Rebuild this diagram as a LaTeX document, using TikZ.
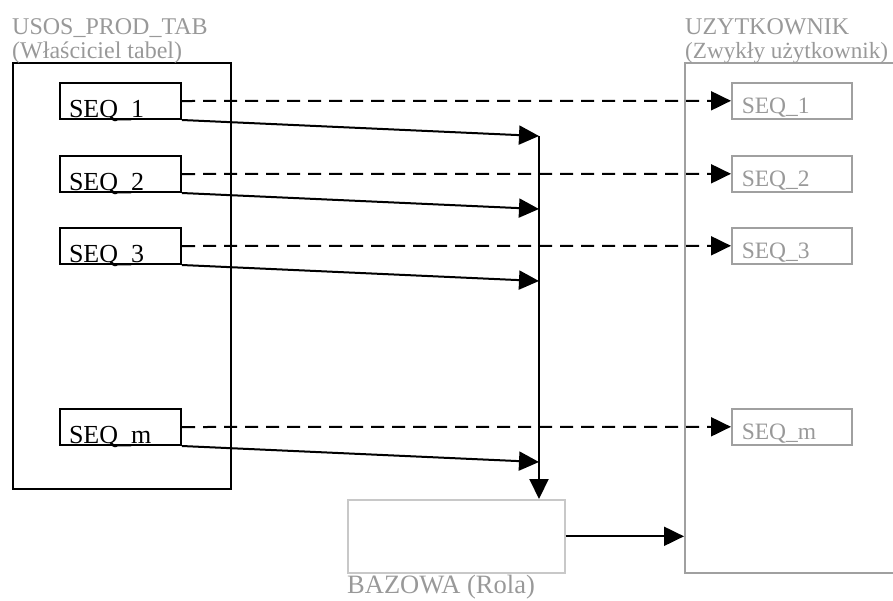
\documentclass[tikz,border=0pt]{standalone}
\usepackage{fontspec}
\setmainfont{Liberation Serif}
\usetikzlibrary{arrows.meta}

\definecolor{labelgray}{HTML}{999999}
\definecolor{linegray}{HTML}{A0A0A0}
\definecolor{palegray}{HTML}{C8C8C8}

\begin{document}
\begin{tikzpicture}[
  x=1pt,y=-1pt,
  font=\fontsize{24}{28}\selectfont,
  >={Triangle[length=20pt,width=19pt]},
  frame/.style={draw,line width=2pt,anchor=north west,inner sep=0pt},
  seq/.style={draw,line width=2pt,anchor=north west,text width=103pt,align=left,
    font=\fontsize{26}{30}\selectfont,
    inner xsep=9pt,inner ysep=0pt,text height=32pt,text depth=0pt,minimum height=36pt},
  useq/.style={seq,draw=linegray,line width=1.6pt,text=labelgray,inner xsep=10pt,
    text width=100pt,text height=26pt,font=\fontsize{23.5}{28}\selectfont},
  title/.style={anchor=base west,text=labelgray,inner sep=0pt},
  flow/.style={->,line width=2pt},
  grant/.style={flow,dash pattern=on 13pt off 8pt}
]
\useasboundingbox (0,0) rectangle (893,600);

\node[frame,minimum width=218pt,minimum height=426pt] (owner) at (12,62) {};
\node[title] (ownername) at (12,34) {USOS\_PROD\_TAB};
\node[title] (ownerrole) at (12,58) {(Właściciel tabel)};

\node[frame,draw=linegray,line width=1.6pt,minimum width=240pt,minimum height=510pt] (user) at (684,62) {};
\node[title] (username) at (685,34) {UZYTKOWNIK};
\node[title,font=\fontsize{23.2}{28}\selectfont] (userrole) at (685,58) {(Zwykły użytkownik)};

\node[frame,draw=palegray,line width=1.6pt,minimum width=217pt,minimum height=73pt] (bazowa) at (347,499) {};
\node[title,font=\fontsize{26.5}{30}\selectfont] (bazowaname) at (347,593) {BAZOWA (Rola)};

\foreach \n/\y in {1/82,2/155,3/227,m/408}{
  \node[seq] (s\n) at (59,\y) {SEQ\_\n};
  \node[useq] (u\n) at (731,\y) {SEQ\_\n};
  \coordinate (j\n) at (539,{\y+54});
  \draw[grant] (s\n.east) -- (u\n.west);
  \draw[flow] (s\n.south east) -- (j\n);
}

\draw[flow] (j1) -- (j1 |- bazowa.north);
\draw[flow] (bazowa.east) -- (bazowa.east -| user.west);
\end{tikzpicture}
\end{document}
